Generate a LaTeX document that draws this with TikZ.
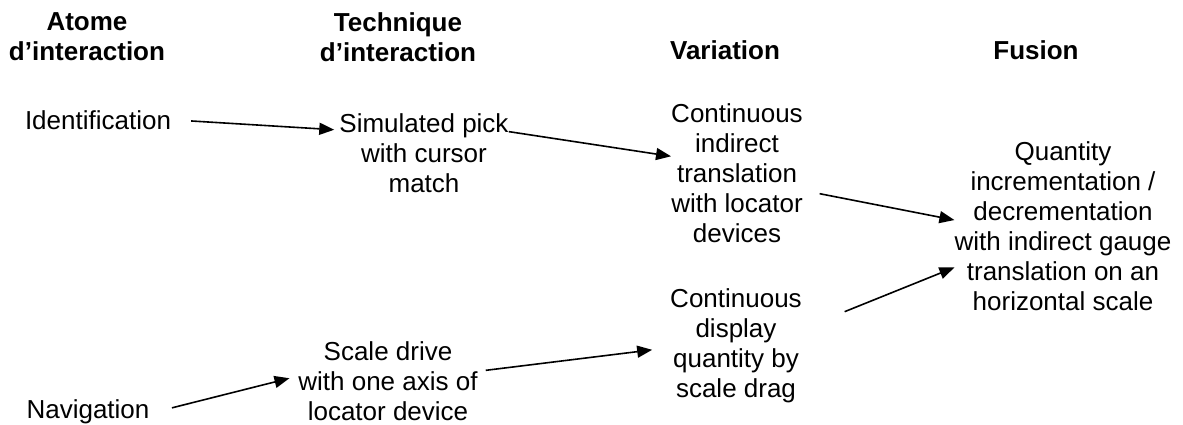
\documentclass[tikz,border=0pt]{standalone}
\usepackage{fontspec}
\setmainfont{Liberation Sans}
\usetikzlibrary{positioning,arrows.meta}
\tikzset{
  tx/.style ={anchor=north, align=center, inner sep=0pt, text=black,
              font=\fontsize{26}{30}\selectfont},
  hd/.style ={tx, font=\fontsize{26}{30}\selectfont\bfseries},
  fl/.style ={-{Triangle[length=15pt,width=12pt]}, line width=1.6pt, draw=black}
}
\begin{document}
\begin{tikzpicture}[x=1pt, y=-1pt]
  \useasboundingbox (0,0) rectangle (1183,425);
  % column heads
  \node[hd] (hatome) at (87,12)  {Atome\\d’interaction};
  \node[hd] (htech)  at (398,12) {Technique\\d’interaction};
  \node[hd] (hvar)   at (725,40) {Variation};
  \node[hd] (hfus)   at (1036,40) {Fusion};

  % atoms
  \node[tx] (ident) at (98,110)  {Identification};
  \node[tx] (navig) at (88,399)  {Navigation};
  % techniques
  \node[tx] (simpick)    at (424,113) {Simulated pick\\with cursor\\match};
  \node[tx] (scaledrive) at (388,341) {Scale drive\\with one axis of\\locator device};
  % variations
  \node[tx] (contind)  at (737,103) {Continuous\\indirect\\translation\\with locator\\devices};
  \node[tx] (contdisp) at (736,288) {Continuous\\display\\quantity by\\scale drag};
  % fusion
  \node[tx] (fusion) at (1063,141) {Quantity\\incrementation /\\decrementation\\with indirect gauge\\translation on an\\horizontal scale};

  \draw[fl, shorten <=20pt, shorten >=5pt] (ident.east) -- (simpick.165);
  \draw[fl] (simpick.14) -- (contind.166);
  \draw[fl, shorten <=17pt] (contind.-15) -- (fusion.177);
  \draw[fl, shorten <=23pt, shorten >=9pt] (navig.-2) -- (scaledrive.177);
  \draw[fl, shorten <=8pt, shorten >=18pt] (scaledrive.6) -- (contdisp.182);
  \draw[fl, shorten <=46pt] (contdisp.14) -- (fusion.201);
\end{tikzpicture}
\end{document}
